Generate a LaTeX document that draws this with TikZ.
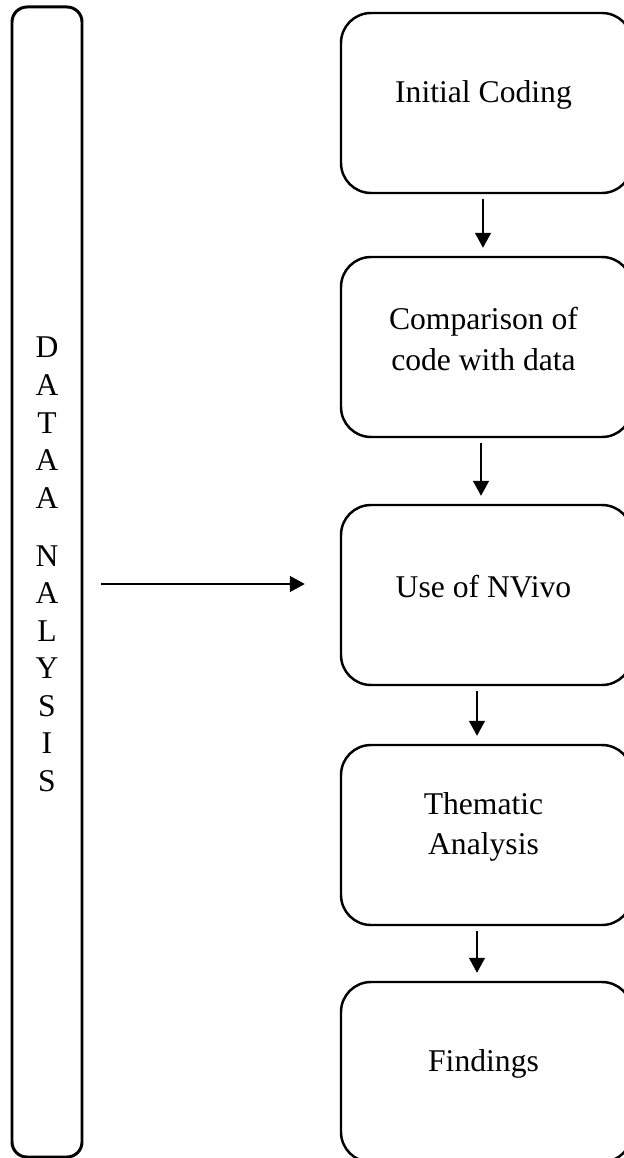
\documentclass[tikz,border=0pt]{standalone}
\usepackage{fontspec}
\setmainfont{Liberation Serif}
\usetikzlibrary{arrows.meta}

\begin{document}
\begin{tikzpicture}[
  stage/.style={draw, line width=1.4pt, rounded corners=0.6cm,
                minimum width=5.82cm, minimum height=3.6cm},
  stagetext/.style={align=center, font=\fontsize{18}{22.8}\selectfont},
  flow/.style={-{Triangle[width=0.32cm, length=0.3cm]}, line width=0.8pt}
]
  \useasboundingbox (0,0) rectangle (12.48,-23.16);
  \clip (0,0) rectangle (12.48,-23.16);

  % side bar, spelled out top to bottom
  \node[draw, line width=1.7pt, rounded corners=0.3cm,
        minimum width=1.4cm, minimum height=23cm] (bar) at (0.94,-11.64) {};
  \foreach \ch [count=\i] in {D,A,T,A,A,N,A,L,Y,S,I,S} {
    \pgfmathsetmacro{\yy}{-7.16 - 0.75*(\i-1) - 0.41*(\i>5)}
    \node[anchor=base, inner sep=0pt, font=\fontsize{18}{22.8}\selectfont]
      (L\i) at (0.94,\yy) {\ch};
  }

  % the five stages
  \node[stage, label={[stagetext, yshift=0.16cm, xshift=-0.06cm]center:{Initial Coding}}] (s1) at (9.73,-2.06) {};
  \node[stage, label={[stagetext, yshift=0.16cm, xshift=-0.06cm]center:{Comparison of\\code with data}}] (s2) at (9.73,-6.94) {};
  \node[stage, label={[stagetext, yshift=0.16cm, xshift=-0.06cm]center:{Use of NVivo}}] (s3) at (9.73,-11.9) {};
  \node[stage, label={[stagetext, yshift=0.16cm, xshift=-0.06cm]center:{Thematic\\Analysis}}] (s4) at (9.73,-16.7) {};
  \node[stage, label={[stagetext, yshift=0.16cm, xshift=-0.06cm]center:{Findings}}] (s5) at (9.73,-21.44) {};

  % bar feeds the middle stage
  \coordinate (tap) at (0,-11.68);
  \draw[flow, shorten <=0.36cm, shorten >=0.7cm] (bar.east |- tap) -- (s3.west |- tap);

  % stage to stage
  \foreach \i/\j/\dx in {1/2/-0.07, 2/3/-0.11, 3/4/-0.19, 4/5/-0.19} {
    \draw[flow, shorten <=0.1cm, shorten >=0.16cm]
      ([xshift=\dx cm]s\i.south) -- ([xshift=\dx cm]s\j.north);
  }
\end{tikzpicture}
\end{document}
